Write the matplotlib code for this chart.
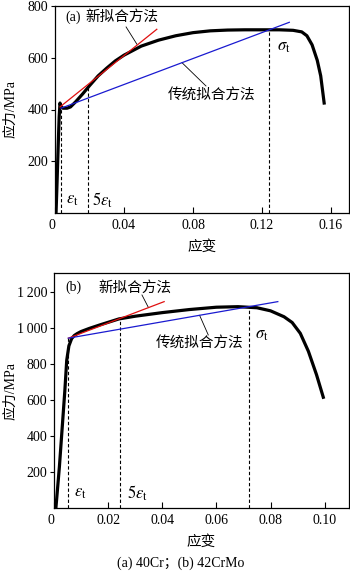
import numpy as np
import matplotlib
matplotlib.use('Agg')
import matplotlib.pyplot as plt

plt.rcParams['font.family'] = ['Liberation Serif', 'Noto Sans CJK SC']
plt.rcParams['mathtext.fontset'] = 'stix'

# (a) 40Cr stress-strain curve
strain_a = [0.0006, 0.0012, 0.0018, 0.0024, 0.0029, 0.0034, 0.0045, 0.007, 0.009,
            0.012, 0.016, 0.02, 0.025, 0.03, 0.035, 0.04, 0.05, 0.06, 0.07, 0.08,
            0.09, 0.10, 0.11, 0.12, 0.13, 0.138, 0.143, 0.146, 0.149, 0.152, 0.154, 0.156]
stress_a = [0, 120, 250, 370, 425, 412, 405, 405, 410,
            430, 460, 492, 530, 560, 588, 610, 645, 668, 685, 697,
            704, 707, 708, 708, 708, 706, 700, 685, 650, 590, 530, 425]
red_a_x = [0.0029, 0.059]
red_a_y = [410, 710]
blue_a_x = [0.0035, 0.1358]
blue_a_y = [405, 737]
eps_a, eps5_a, sig_a = 0.0037, 0.019, 0.124
eps_a_top, eps5_a_top, sig_a_top = 405, 492, 707

# (b) 42CrMo stress-strain curve
strain_b = [0.0007, 0.002, 0.003, 0.004, 0.0047, 0.0055, 0.0065, 0.0075, 0.0085, 0.01,
            0.013, 0.017, 0.024, 0.03, 0.04, 0.05, 0.06, 0.068, 0.075, 0.08,
            0.085, 0.088, 0.091, 0.094, 0.097, 0.0995]
stress_b = [0, 230, 440, 650, 820, 900, 940, 958, 968, 980,
            997, 1017, 1050, 1065, 1085, 1102, 1115, 1118, 1112, 1095,
            1062, 1030, 970, 870, 740, 615]
red_b_x = [0.0053, 0.0407]
red_b_y = [943, 1146]
blue_b_x = [0.0053, 0.0827]
blue_b_y = [943, 1146]
eps_b, eps5_b, sig_b = 0.0053, 0.0244, 0.072
eps_b_top, eps5_b_top, sig_b_top = 943, 1055, 1118

W, H = 350, 575
fig = plt.figure(figsize=(W / 100, H / 100), dpi=100)


def style_axes(ax):
    ax.tick_params(axis='x', direction='in', length=4, width=0.8, labelsize=10, pad=4)
    ax.tick_params(axis='y', direction='out', length=3, width=0.8, labelsize=10, pad=2)
    for s in ax.spines.values():
        s.set_linewidth(0.9)


# ---------- panel (a) ----------
ax1 = fig.add_axes([55 / W, 1 - 213 / H, 294 / W, 207 / H])
ax1.plot(strain_a, stress_a, color='black', lw=2.3, solid_joinstyle='round', zorder=3)
ax1.plot(red_a_x, red_a_y, color='#e01010', lw=0.9, zorder=4)
ax1.plot(blue_a_x, blue_a_y, color='#1a1ad0', lw=0.9, zorder=4)
for x, top in [(eps_a, eps_a_top), (eps5_a, eps5_a_top), (sig_a, sig_a_top)]:
    ax1.plot([x, x], [0, top], color='black', lw=0.8, ls=(0, (3, 2)), zorder=2)
ax1.plot([0.0412, 0.0475], [719, 652], color='black', lw=0.6)
ax1.plot([0.0736, 0.0875], [581, 491], color='black', lw=0.6)
ax1.text(0.0062, 757, '(a)', fontsize=10, va='center')
ax1.text(0.0176, 757, '新拟合方法', fontsize=10.5, va='center')
ax1.text(0.091, 456, '传统拟合方法', fontsize=10.5, va='center', ha='center')
ax1.text(0.1285, 641, r'$\sigma_\mathrm{t}$', fontsize=12, va='center')
ax1.text(0.0065, 50, r'$\varepsilon_\mathrm{t}$', fontsize=12, va='center')
ax1.text(0.0215, 50, r'$5\varepsilon_\mathrm{t}$', fontsize=12, va='center')
ax1.set_xlim(0, 0.1704)
ax1.set_ylim(0, 800)
ax1.set_xticks([0, 0.04, 0.08, 0.12, 0.16])
ax1.set_xticklabels(['0', '0.04', '0.08', '0.12', '0.16'])
ax1.set_yticks([200, 400, 600, 800])
ax1.set_yticklabels(['200', '400', '600', '800'])
ax1.get_xticklabels()[0].set_ha('right')
style_axes(ax1)
ax1.set_xlabel('应变', fontsize=10.5, labelpad=6)
ax1.set_ylabel('应力/MPa', fontsize=10)
ax1.yaxis.set_label_coords(-0.128, 0.5)

# ---------- panel (b) ----------
ax2 = fig.add_axes([54 / W, 1 - 508 / H, 295 / W, 235 / H])
ax2.plot(strain_b, stress_b, color='black', lw=2.3, solid_joinstyle='round', zorder=3)
ax2.plot(red_b_x, red_b_y, color='#e01010', lw=0.9, zorder=4)
ax2.plot(blue_b_x, blue_b_y, color='#1a1ad0', lw=0.9, zorder=4)
for x, top in [(eps_b, eps_b_top), (eps5_b, eps5_b_top), (sig_b, sig_b_top)]:
    ax2.plot([x, x], [0, top], color='black', lw=0.8, ls=(0, (3, 2)), zorder=2)
ax2.plot([0.0325, 0.0349], [1183, 1113], color='black', lw=0.6)
ax2.plot([0.0538, 0.057], [1070, 961], color='black', lw=0.6)
ax2.text(0.0041, 1228, '(b)', fontsize=10, va='center')
ax2.text(0.0164, 1222, '新拟合方法', fontsize=10.5, va='center')
ax2.text(0.0537, 917, '传统拟合方法', fontsize=10.5, va='center', ha='center')
ax2.text(0.0744, 961, r'$\sigma_\mathrm{t}$', fontsize=12, va='center')
ax2.text(0.0074, 83, r'$\varepsilon_\mathrm{t}$', fontsize=12, va='center')
ax2.text(0.0269, 83, r'$5\varepsilon_\mathrm{t}$', fontsize=12, va='center')
ax2.set_xlim(0, 0.109)
ax2.set_ylim(0, 1305)
ax2.set_xticks([0, 0.02, 0.04, 0.06, 0.08, 0.10])
ax2.set_xticklabels(['0', '0.02', '0.04', '0.06', '0.08', '0.10'])
ax2.set_yticks([200, 400, 600, 800, 1000, 1200])
ax2.set_yticklabels(['200', '400', '600', '800', '1\u2009000', '1\u2009200'])
ax2.get_xticklabels()[0].set_ha('right')
style_axes(ax2)
ax2.set_xlabel('应变', fontsize=10.5, labelpad=6)
ax2.set_ylabel('应力/MPa', fontsize=10)
ax2.yaxis.set_label_coords(-0.125, 0.5)

fig.text(181 / W, 1 - 563 / H, '(a) 40Cr；(b) 42CrMo', fontsize=10, ha='center', va='center')

fig.savefig('out.png', dpi=100)
